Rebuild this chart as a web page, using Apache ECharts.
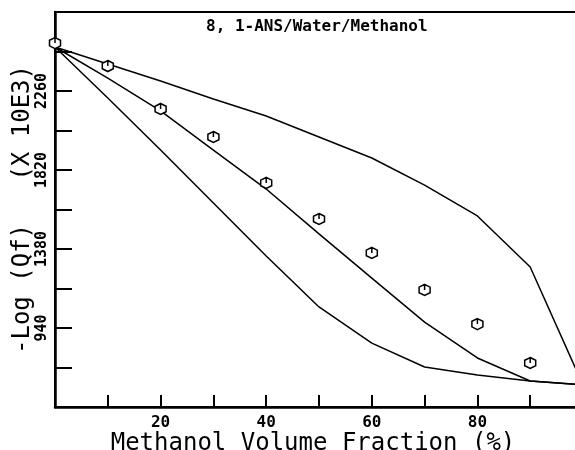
<!DOCTYPE html>
<html>
<head>
<meta charset="utf-8">
<script src="https://cdn.jsdelivr.net/npm/echarts@6/dist/echarts.min.js"></script>
<style>
    html, body { margin: 0; padding: 0; background: #fff; }
    #chart { width: 575px; height: 450px; }
</style>
</head>
<body>
<div id="chart"></div>
<script>
// methanol volume fraction (%)
var fractions = [0, 10, 20, 30, 40, 50, 60, 70, 80, 90, 100];
// measured points (hexagon markers), 0..90
var measured = [2527, 2399, 2160, 2004, 1748, 1547, 1358, 1152, 962, 745];
// three model curves
var upperCurve = [2505, 2410, 2316, 2215, 2121, 2004, 1887, 1736, 1564, 1280, 623];
var middleCurve = [2505, 2332, 2149, 1931, 1714, 1464, 1218, 973, 773, 645, 623];
var lowerCurve = [2505, 2221, 1931, 1636, 1341, 1057, 856, 723, 678, 645, 623];
// tick labels that are printed
var xTickLabels = [20, 40, 60, 80];
var yTickLabels = [940, 1380, 1820, 2260];

function pairs(vals) {
    return vals.map(function (v, i) { return [fractions[i], v]; });
}

var chart = echarts.init(document.getElementById('chart'));

var mono = 'DejaVu Sans Mono';
var lineStyle = { color: '#000', width: 1.5 };

var option = {
    animation: false,
    backgroundColor: '#fff',
    title: {
        text: '8, 1-ANS/Water/Methanol',
        left: 201,
        top: 14,
        textStyle: { fontFamily: mono, fontWeight: 'bold', fontSize: 16, color: '#000' }
    },
    grid: {
        left: 55, top: 12, right: -8, bottom: 43,
        containLabel: false,
        outerBoundsMode: 'none',
        show: true, borderColor: '#000', borderWidth: 2
    },
    xAxis: {
        type: 'value',
        min: 0, max: 100, interval: 10,
        name: 'Methanol Volume Fraction (%)',
        nameLocation: 'middle',
        nameGap: 25,
        nameMoveOverlap: false,
        nameTextStyle: { fontFamily: mono, fontSize: 24, color: '#000', padding: [0, 12, 0, 0] },
        axisLine: { lineStyle: { color: '#000', width: 2.5 } },
        axisTick: { inside: true, length: 12, lineStyle: { color: '#000', width: 2 } },
        axisLabel: {
            margin: 8,
            fontFamily: mono, fontWeight: 'bold', fontSize: 16, color: '#000',
            formatter: function (v) { return xTickLabels.indexOf(v) >= 0 ? String(v) : ''; }
        },
        splitLine: { show: false }
    },
    yAxis: {
        type: 'value',
        min: 500, max: 2700, interval: 220,
        name: '-Log (Qf)   (X 10E3)',
        nameLocation: 'middle',
        nameGap: 20,
        nameRotate: 90,
        nameMoveOverlap: false,
        nameTextStyle: { fontFamily: mono, fontSize: 24, color: '#000' },
        axisLine: { show: true, lineStyle: { color: '#000', width: 2.5 } },
        axisTick: { show: true, inside: true, length: 17, lineStyle: { color: '#000', width: 2 } },
        axisLabel: {
            rotate: 90,
            margin: 5,
            fontFamily: mono, fontWeight: 'bold', fontSize: 15, color: '#000',
            formatter: function (v) { return yTickLabels.indexOf(v) >= 0 ? String(v) : ''; }
        },
        splitLine: { show: false }
    },
    series: [
        { type: 'line', data: pairs(upperCurve), showSymbol: false, lineStyle: lineStyle },
        { type: 'line', data: pairs(middleCurve), showSymbol: false, lineStyle: lineStyle },
        { type: 'line', data: pairs(lowerCurve), showSymbol: false, lineStyle: lineStyle },
        {
            type: 'scatter',
            data: pairs(measured),
            symbol: 'path://M5,0 L9.33,2.5 L9.33,7.5 L5,10 L0.67,7.5 L0.67,2.5 Z M5,0 L5,5',
            symbolSize: 11,
            itemStyle: { color: '#fff', borderColor: '#000', borderWidth: 1.5, opacity: 1 },
            z: 5
        }
    ]
};

chart.setOption(option);
</script>
</body>
</html>
